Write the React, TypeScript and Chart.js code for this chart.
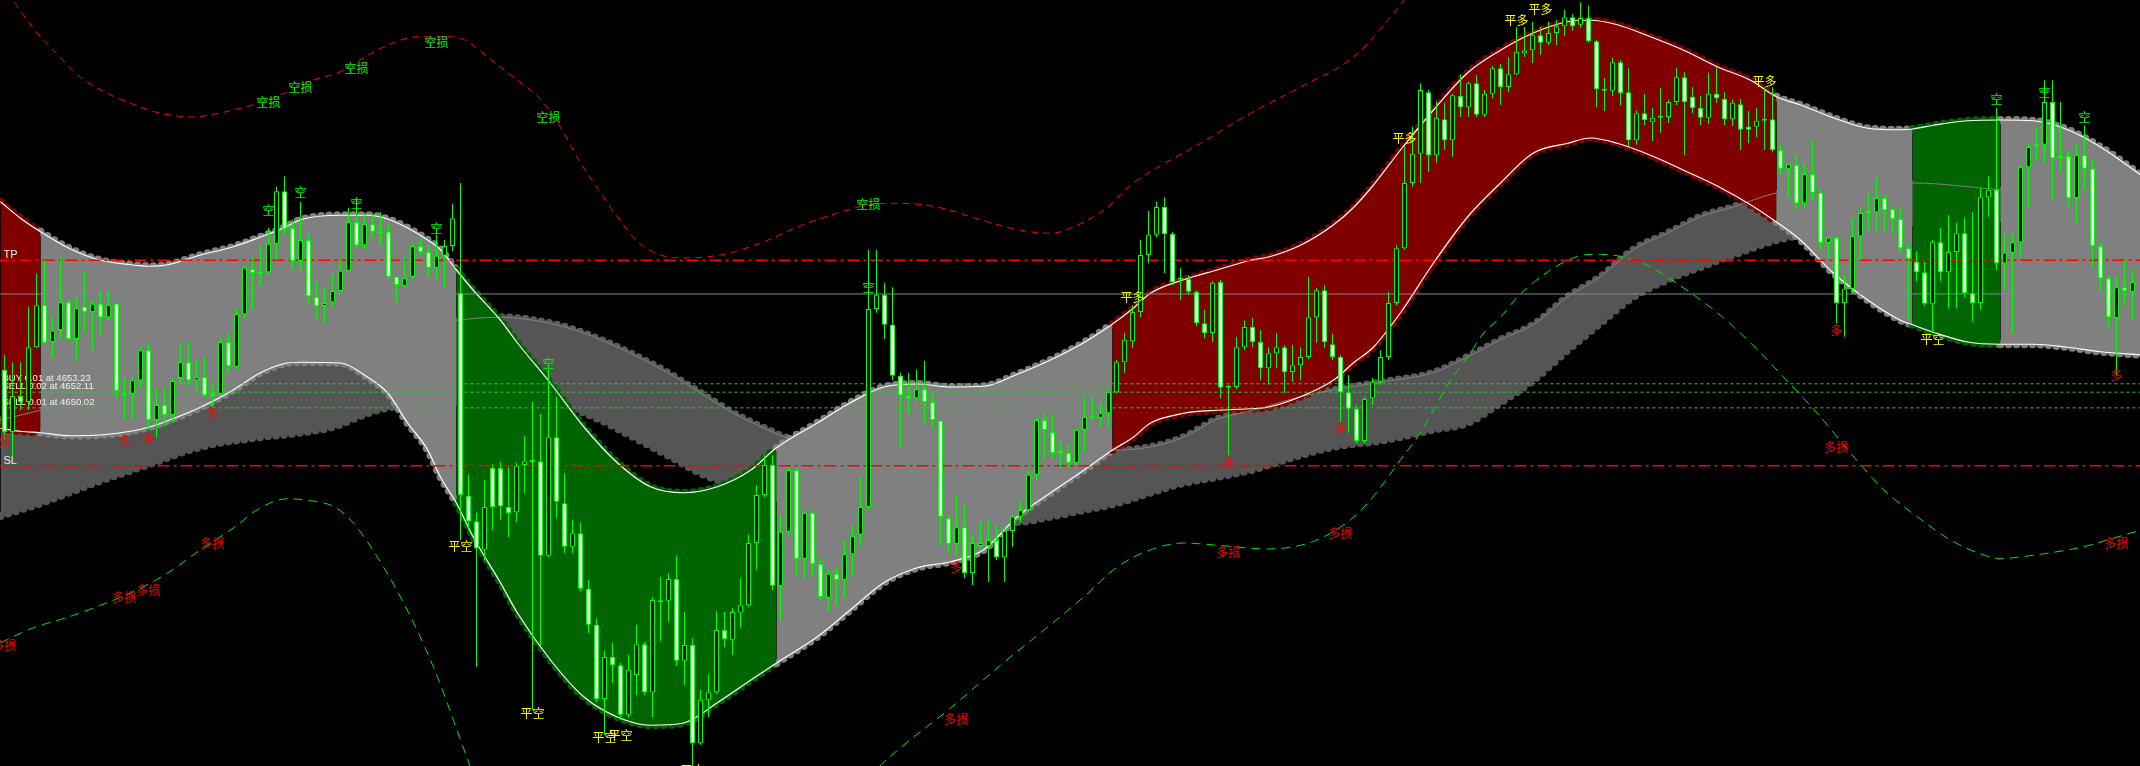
import React, { useEffect, useRef } from "react";
import { Chart, registerables } from "chart.js";

Chart.register(...registerables);

// ---------- Candles (one per bar index) ----------
const opens = [
  4655.1, 4646.8, 4651.6, 4650.8, 4658.1, 4663.7, 4658.8, 4660.4, 4664.1, 4659.2,
  4663.5, 4662.8, 4663.9, 4662.1, 4663.9, 4651.9, 4651.9, 4653.7, 4657.7, 4648.4,
  4650.4, 4649.1, 4654.0, 4656.1, 4653.7, 4654.1, 4651.7, 4651.9, 4658.8, 4655.5,
  4662.5, 4668.5, 4668.0, 4668.1, 4671.9, 4678.9, 4674.0, 4669.6, 4672.4, 4664.8,
  4663.6, 4664.1, 4665.6, 4668.3, 4674.8, 4671.7, 4674.5, 4673.5, 4673.5, 4667.5,
  4666.3, 4667.5, 4671.6, 4670.8, 4668.7, 4670.3, 4671.6, 4665.3, 4638.3, 4634.9,
  4631.1, 4642.0, 4642.0, 4636.8, 4636.1, 4642.4, 4642.9, 4642.9, 4630.3, 4646.1,
  4637.3, 4631.5, 4633.3, 4625.9, 4621.1, 4611.2, 4616.8, 4615.7, 4609.1, 4614.4,
  4618.5, 4612.1, 4624.3, 4624.3, 4627.2, 4616.3, 4618.4, 4605.3, 4611.1, 4612.1,
  4620.4, 4619.1, 4622.7, 4623.7, 4632.0, 4638.4, 4642.4, 4626.3, 4633.5, 4641.7,
  4629.9, 4636.0, 4629.2, 4624.7, 4627.9, 4627.1, 4630.5, 4633.1, 4636.8, 4663.2,
  4665.1, 4661.1, 4654.3, 4651.6, 4651.3, 4652.5, 4650.8, 4648.3, 4635.3, 4631.9,
  4634.1, 4628.0, 4631.6, 4631.6, 4632.4, 4630.1, 4633.6, 4635.5, 4636.4, 4641.1,
  4648.4, 4646.8, 4644.3, 4644.0, 4642.7, 4647.1, 4648.7, 4648.7, 4649.3, 4652.1,
  4656.1, 4658.9, 4662.8, 4670.4, 4673.1, 4676.8, 4673.2, 4667.2, 4667.2, 4665.5,
  4661.3, 4660.0, 4666.8, 4652.8, 4652.8, 4658.1, 4660.8, 4658.8, 4655.3, 4657.3,
  4658.1, 4654.8, 4655.7, 4656.8, 4662.1, 4665.7, 4658.5, 4656.8, 4652.1, 4649.9,
  4645.6, 4651.3, 4653.5, 4656.8, 4664.0, 4671.3, 4680.0, 4683.9, 4692.1, 4683.7,
  4688.5, 4685.7, 4691.6, 4690.1, 4693.3, 4689.1, 4691.9, 4695.3, 4692.8, 4694.5,
  4697.3, 4697.7, 4699.7, 4698.7, 4700.0, 4700.9, 4702.1, 4701.1, 4702.0, 4698.9,
  4692.4, 4692.3, 4696.1, 4692.1, 4685.7, 4689.3, 4688.1, 4688.8, 4688.8, 4690.8,
  4694.1, 4691.5, 4690.0, 4688.7, 4691.9, 4691.2, 4688.5, 4690.5, 4687.5, 4687.5,
  4688.5, 4688.5, 4684.4, 4681.9, 4682.4, 4677.3, 4681.2, 4678.7, 4672.0, 4672.7,
  4664.0, 4665.9, 4672.9, 4676.1, 4676.1, 4678.0, 4676.5, 4675.2, 4671.3, 4669.5,
  4668.1, 4663.9, 4672.1, 4668.1, 4670.8, 4673.3, 4665.3, 4664.0, 4678.1, 4679.1,
  4669.3, 4670.7, 4672.1, 4682.1, 4685.1, 4685.1, 4690.8, 4683.6, 4683.6, 4678.0,
  4683.7, 4681.9, 4671.6, 4667.3, 4662.0, 4666.1, 4665.5,
];
const highs = [
  4657.1, 4656.1, 4656.1, 4663.5, 4667.9, 4669.7, 4662.1, 4670.1, 4664.4, 4664.7,
  4668.1, 4664.4, 4665.6, 4665.6, 4664.1, 4654.1, 4654.1, 4658.1, 4658.7, 4652.5,
  4652.5, 4654.0, 4658.7, 4658.8, 4656.4, 4656.8, 4653.1, 4659.3, 4659.9, 4663.3,
  4668.9, 4670.0, 4671.7, 4674.0, 4679.5, 4680.9, 4675.1, 4677.5, 4673.3, 4666.9,
  4666.1, 4668.0, 4669.7, 4676.7, 4678.0, 4676.0, 4676.0, 4676.1, 4674.7, 4667.6,
  4670.1, 4671.9, 4672.7, 4671.7, 4673.1, 4672.4, 4677.2, 4680.0, 4641.1, 4636.1,
  4640.4, 4642.5, 4642.8, 4642.1, 4642.7, 4646.3, 4650.8, 4649.2, 4655.1, 4651.5,
  4641.3, 4635.1, 4634.7, 4627.1, 4621.9, 4617.6, 4618.7, 4616.0, 4617.1, 4621.1,
  4618.8, 4624.8, 4627.5, 4628.0, 4630.3, 4622.8, 4619.3, 4612.4, 4614.5, 4622.9,
  4622.8, 4623.3, 4627.3, 4633.1, 4639.7, 4643.7, 4643.7, 4635.7, 4642.1, 4642.0,
  4636.4, 4636.4, 4630.0, 4628.4, 4628.8, 4632.4, 4634.4, 4640.7, 4671.1, 4671.1,
  4666.7, 4666.1, 4654.7, 4654.7, 4655.1, 4656.3, 4652.0, 4648.5, 4635.7, 4638.4,
  4637.1, 4633.1, 4634.8, 4635.1, 4634.4, 4634.1, 4635.7, 4637.7, 4641.7, 4648.7,
  4649.3, 4649.1, 4645.6, 4645.2, 4647.3, 4651.5, 4651.5, 4650.7, 4652.4, 4656.4,
  4660.0, 4663.7, 4672.4, 4676.3, 4677.5, 4678.1, 4673.5, 4668.7, 4667.7, 4665.7,
  4663.1, 4666.9, 4667.1, 4653.1, 4659.5, 4661.7, 4662.0, 4660.4, 4658.1, 4660.0,
  4658.4, 4658.4, 4658.1, 4667.5, 4666.0, 4666.4, 4659.9, 4657.1, 4654.4, 4650.4,
  4651.5, 4654.0, 4657.7, 4665.5, 4671.7, 4684.9, 4687.5, 4693.3, 4692.4, 4690.9,
  4690.7, 4691.9, 4694.5, 4693.5, 4694.4, 4692.4, 4695.6, 4695.9, 4696.8, 4700.8,
  4700.8, 4701.5, 4700.8, 4701.5, 4701.7, 4703.1, 4702.5, 4704.1, 4703.6, 4699.1,
  4694.0, 4696.7, 4696.4, 4695.3, 4689.7, 4691.9, 4690.0, 4692.7, 4691.1, 4695.3,
  4694.8, 4692.8, 4691.6, 4694.7, 4695.5, 4692.1, 4691.1, 4691.2, 4689.6, 4690.0,
  4692.8, 4692.8, 4685.1, 4682.7, 4683.7, 4682.7, 4685.7, 4679.1, 4672.8, 4672.9,
  4667.6, 4675.3, 4676.8, 4678.7, 4680.7, 4678.3, 4676.8, 4676.7, 4671.9, 4670.9,
  4669.5, 4672.4, 4674.0, 4675.7, 4674.7, 4675.3, 4676.1, 4679.3, 4680.9, 4690.0,
  4673.3, 4673.3, 4682.4, 4685.3, 4687.3, 4693.7, 4693.7, 4690.8, 4684.4, 4685.3,
  4687.7, 4683.1, 4671.9, 4667.6, 4667.6, 4669.7, 4668.4,
];
const lows = [
  4645.7, 4643.5, 4649.7, 4649.7, 4658.0, 4658.5, 4656.8, 4659.3, 4659.1, 4656.3,
  4660.1, 4657.7, 4659.6, 4661.7, 4651.3, 4648.5, 4648.5, 4652.8, 4647.2, 4646.1,
  4647.5, 4648.0, 4653.2, 4653.1, 4652.4, 4651.5, 4650.1, 4651.7, 4654.7, 4655.1,
  4662.0, 4663.1, 4666.4, 4667.7, 4669.7, 4673.1, 4668.5, 4668.4, 4664.0, 4661.9,
  4661.3, 4663.5, 4665.5, 4668.1, 4671.3, 4671.2, 4672.8, 4671.7, 4667.3, 4664.1,
  4666.1, 4667.3, 4670.4, 4667.5, 4667.3, 4666.1, 4670.9, 4632.4, 4633.7, 4615.5,
  4629.7, 4633.7, 4635.1, 4632.8, 4634.8, 4638.7, 4609.7, 4618.3, 4630.1, 4635.3,
  4630.7, 4630.7, 4625.6, 4620.0, 4610.8, 4606.4, 4613.3, 4608.4, 4608.8, 4611.7,
  4611.7, 4608.8, 4618.9, 4621.5, 4615.6, 4613.1, 4602.3, 4605.1, 4608.8, 4611.9,
  4618.1, 4617.1, 4620.7, 4623.5, 4628.4, 4638.1, 4625.7, 4621.7, 4633.1, 4627.7,
  4627.3, 4627.7, 4624.4, 4622.8, 4623.7, 4624.8, 4627.7, 4631.7, 4636.4, 4662.7,
  4659.2, 4653.7, 4644.7, 4649.3, 4650.8, 4648.0, 4647.5, 4631.7, 4630.7, 4630.4,
  4627.3, 4626.4, 4631.1, 4626.8, 4629.7, 4626.8, 4631.5, 4634.7, 4636.1, 4640.4,
  4643.3, 4643.3, 4642.0, 4642.0, 4642.4, 4644.1, 4648.5, 4647.5, 4647.3, 4651.9,
  4654.7, 4658.0, 4662.1, 4669.3, 4672.8, 4668.0, 4666.4, 4664.4, 4665.1, 4660.9,
  4659.3, 4658.8, 4651.3, 4643.7, 4652.5, 4657.7, 4658.1, 4653.7, 4653.1, 4655.3,
  4652.0, 4653.5, 4653.7, 4656.5, 4658.7, 4658.0, 4656.4, 4648.0, 4646.7, 4645.3,
  4645.3, 4650.4, 4653.1, 4656.4, 4663.7, 4671.1, 4679.5, 4680.0, 4681.5, 4682.7,
  4684.4, 4683.5, 4688.8, 4688.8, 4688.8, 4688.8, 4691.3, 4690.4, 4692.1, 4694.4,
  4696.8, 4696.0, 4697.1, 4698.4, 4698.4, 4699.6, 4700.3, 4700.7, 4698.7, 4690.1,
  4689.6, 4691.6, 4690.3, 4684.9, 4685.1, 4687.7, 4685.6, 4686.7, 4688.0, 4690.4,
  4683.7, 4689.3, 4687.7, 4687.9, 4690.7, 4687.7, 4687.6, 4684.4, 4685.3, 4686.1,
  4684.4, 4684.1, 4681.1, 4678.1, 4676.4, 4676.7, 4677.7, 4671.1, 4670.0, 4661.3,
  4659.5, 4665.3, 4669.7, 4673.7, 4673.5, 4673.5, 4673.3, 4670.7, 4661.7, 4666.9,
  4663.6, 4660.0, 4666.9, 4663.3, 4663.3, 4664.7, 4661.5, 4663.1, 4675.5, 4668.4,
  4665.7, 4660.0, 4670.1, 4676.7, 4682.8, 4682.7, 4677.7, 4681.5, 4676.8, 4674.7,
  4679.1, 4668.8, 4665.7, 4660.8, 4654.4, 4663.7, 4661.7,
];
const closes = [
  4646.8, 4651.6, 4650.8, 4658.1, 4663.7, 4658.7, 4660.3, 4664.1, 4659.2, 4663.3,
  4662.8, 4663.9, 4662.1, 4663.7, 4652.3, 4651.7, 4653.7, 4657.7, 4648.4, 4650.4,
  4649.1, 4653.6, 4656.1, 4653.7, 4654.1, 4651.7, 4651.6, 4658.8, 4655.6, 4662.5,
  4668.7, 4668.0, 4667.9, 4671.9, 4678.9, 4673.9, 4669.6, 4672.4, 4664.9, 4663.6,
  4664.0, 4665.6, 4668.3, 4674.8, 4671.7, 4674.5, 4673.5, 4673.3, 4667.5, 4666.4,
  4667.3, 4671.6, 4670.8, 4668.7, 4670.3, 4671.6, 4675.3, 4638.4, 4634.9, 4631.3,
  4636.8, 4636.8, 4636.9, 4636.0, 4642.3, 4642.9, 4642.8, 4630.3, 4646.1, 4637.5,
  4631.5, 4633.3, 4625.9, 4621.1, 4611.2, 4616.8, 4615.7, 4609.1, 4615.1, 4618.5,
  4612.1, 4624.4, 4624.1, 4627.2, 4616.3, 4618.4, 4605.3, 4611.1, 4612.1, 4620.4,
  4619.2, 4622.8, 4623.7, 4632.0, 4638.4, 4642.4, 4626.3, 4633.5, 4641.7, 4629.9,
  4636.0, 4629.2, 4624.8, 4627.9, 4627.1, 4630.5, 4632.9, 4636.8, 4663.2, 4665.1,
  4661.1, 4654.3, 4651.7, 4651.3, 4652.5, 4650.8, 4648.4, 4635.5, 4631.9, 4634.1,
  4628.0, 4632.0, 4632.0, 4632.4, 4630.1, 4633.6, 4635.5, 4636.4, 4641.1, 4648.4,
  4647.1, 4644.0, 4644.0, 4642.7, 4647.1, 4648.8, 4648.8, 4649.3, 4652.1, 4656.1,
  4659.1, 4662.8, 4670.4, 4673.1, 4676.8, 4673.2, 4666.8, 4667.1, 4665.5, 4661.3,
  4660.0, 4666.7, 4652.7, 4652.7, 4658.1, 4660.8, 4658.8, 4655.3, 4657.3, 4658.1,
  4654.8, 4655.7, 4656.8, 4662.1, 4665.7, 4658.8, 4656.8, 4652.1, 4649.9, 4645.6,
  4651.2, 4653.5, 4656.8, 4664.0, 4671.3, 4680.0, 4683.9, 4692.4, 4683.7, 4688.7,
  4685.7, 4691.7, 4690.1, 4693.3, 4689.1, 4691.9, 4695.3, 4692.8, 4694.5, 4697.5,
  4697.7, 4699.7, 4698.7, 4700.0, 4700.9, 4702.1, 4700.9, 4702.0, 4698.9, 4692.5,
  4692.3, 4696.1, 4692.0, 4685.7, 4689.3, 4688.4, 4688.7, 4688.7, 4690.8, 4694.1,
  4690.8, 4690.0, 4688.7, 4691.9, 4691.3, 4688.5, 4690.7, 4687.1, 4687.1, 4688.3,
  4688.3, 4684.4, 4681.9, 4682.5, 4677.3, 4681.2, 4678.7, 4672.0, 4672.7, 4664.0,
  4665.9, 4672.9, 4676.0, 4676.0, 4678.0, 4676.4, 4675.2, 4671.3, 4669.9, 4668.1,
  4663.9, 4672.1, 4668.1, 4670.8, 4673.3, 4665.3, 4664.0, 4678.1, 4679.1, 4669.3,
  4670.7, 4672.1, 4682.1, 4684.8, 4684.9, 4690.8, 4683.3, 4683.3, 4678.0, 4683.7,
  4681.9, 4671.6, 4667.3, 4662.1, 4666.1, 4665.6, 4666.8,
];

// ---------- Main channel (bar-index positions, upper/lower prices) ----------
const bandX = [
  -0.5, 2, 4.5, 8.25, 12, 15.75, 18.25, 20.4, 24.5, 28.6, 32, 34.9, 37, 42, 45.4, 47.9, 50.4, 52.9, 54.5, 56.5,
  58.6, 62, 64.1, 68.25, 72.4, 76.6, 80.75, 84.9, 89.1, 93.25, 96.5, 101.6, 105.75, 109.9, 114.1, 118.25, 122.4, 126.6, 130.75, 134.9,
  138.5, 141.1, 143.25, 147.4, 151.6, 155.75, 157.9, 162, 166.1, 168.6, 171.1, 174.5, 178.6, 182.9, 187, 191.1, 195.4, 198.25, 201.6, 205.75,
  209.9, 214.1, 218.25, 221.5, 224.5, 228.6, 232.9, 237, 238.5, 241.1, 245.4, 249.5, 253.6, 257.9, 262, 267,
];
const bandUpper = [
  4677.5, 4675.3, 4673.5, 4671.2, 4669.7, 4669.1, 4668.9, 4669.1, 4670.4, 4671.5, 4672.8, 4674.0, 4675.1, 4675.7, 4675.7, 4675.2, 4674.0, 4672.4, 4671.1, 4668.4,
  4665.7, 4661.7, 4658.7, 4653.3, 4647.5, 4642.7, 4639.5, 4638.7, 4639.5, 4641.7, 4644.7, 4648.0, 4650.7, 4652.8, 4653.2, 4652.8, 4652.9, 4654.5, 4656.4, 4658.7,
  4661.2, 4663.3, 4665.3, 4667.1, 4668.4, 4669.7, 4670.1, 4671.7, 4674.4, 4676.7, 4679.7, 4684.4, 4689.7, 4694.7, 4697.7, 4700.0, 4701.5, 4701.7, 4701.1, 4699.5,
  4697.7, 4695.5, 4693.7, 4691.5, 4690.4, 4688.7, 4687.3, 4687.1, 4687.2, 4687.7, 4688.3, 4688.4, 4688.3, 4687.1, 4684.8, 4681.1,
];
const bandLower = [
  4647.3, 4646.9, 4646.7, 4646.3, 4646.4, 4646.9, 4647.5, 4648.3, 4650.1, 4652.4, 4654.7, 4655.9, 4656.1, 4656.0, 4654.1, 4652.0, 4648.0, 4644.4, 4640.8, 4637.3,
  4632.8, 4626.7, 4622.7, 4616.4, 4611.5, 4608.8, 4607.7, 4608.0, 4610.7, 4613.7, 4616.0, 4619.5, 4623.1, 4626.7, 4628.7, 4629.5, 4631.1, 4635.5, 4638.7, 4641.7,
  4644.4, 4646.1, 4648.0, 4649.3, 4649.7, 4649.9, 4650.1, 4651.5, 4653.7, 4656.0, 4658.1, 4662.7, 4669.3, 4675.5, 4680.0, 4684.0, 4685.3, 4686.0, 4685.3, 4683.7,
  4681.7, 4679.6, 4677.1, 4674.8, 4672.4, 4668.0, 4664.4, 4661.7, 4661.1, 4660.1, 4658.8, 4658.5, 4658.5, 4658.1, 4657.5, 4657.1,
];
// channel state by bar range
const regionStarts = [-0.5, 4.5, 56.5, 96.5, 138.5, 221.5, 238.5, 249.5];
const regionKinds = ["long", "flat", "short", "flat", "long", "flat", "short", "flat"];

// ---------- Slow grey cloud ----------
const cloudX = [
  -0.5, 4.5, 12, 17, 24.5, 32, 37, 41.1, 45.4, 48.25, 55.75, 62, 66.1, 70.4, 74.5, 78.6, 82.9, 87, 91.1, 95.4,
  97.9, 105.75, 118.25, 126.6, 130.75, 134.9, 139.1, 143.25, 147.4, 151.6, 155.75, 162, 166.1, 172.4, 178.6, 182.9, 187, 191.1, 195.4, 199.5,
  203.6, 207.9, 212, 216.1, 221.6, 230.75, 238.5, 249.5, 267,
];
const cloudTop = [
  4648.4, 4649.7, 4651.5, 4652.7, 4654.4, 4656.3, 4657.5, 4658.4, 4659.5, 4660.1, 4661.6, 4662.1, 4661.7, 4660.7, 4659.1, 4657.1, 4654.7, 4652.0, 4649.3, 4647.1,
  4646.0, 4645.1, 4644.7, 4644.5, 4644.4, 4644.4, 4644.4, 4644.8, 4646.1, 4648.5, 4649.6, 4651.5, 4652.4, 4653.5, 4654.7, 4656.8, 4659.1, 4661.1, 4664.8, 4667.5,
  4671.1, 4673.3, 4675.5, 4676.8, 4678.7, 4679.6, 4680.0, 4679.1, 4677.7,
];
const cloudBottom = [
  4635.6, 4637.3, 4640.3, 4642.1, 4644.8, 4646.1, 4646.7, 4647.5, 4649.3, 4650.1, 4650.8, 4650.9, 4650.8, 4650.1, 4648.4, 4646.1, 4643.7, 4641.3, 4639.7, 4638.4,
  4637.6, 4636.1, 4635.1, 4634.8, 4635.5, 4636.4, 4637.3, 4638.7, 4640.0, 4640.8, 4641.7, 4643.7, 4644.8, 4645.7, 4647.1, 4648.0, 4650.7, 4653.7, 4657.7, 4661.3,
  4664.8, 4667.1, 4668.8, 4670.4, 4672.4, 4674.0, 4674.8, 4675.3, 4674.4,
];

// ---------- Stop lines ----------
const shortStopX = [
  -0.5, 1.5, 4, 6.5, 9.5, 12.6, 15.6, 18.75, 21.9, 23.5, 25.75, 28.5, 31.9, 35.25, 38.5, 41.9, 45.5, 48.6, 51.6, 55.25,
  57.5, 60.4, 63.6, 66.5, 68.1, 69.9, 72, 74.25, 77.6, 79.9, 84.5, 89.5, 94.5, 99.5, 104.5, 108, 112, 117, 122, 127,
  130.75, 134.9, 137.9, 140.75, 149.5, 155.75, 162, 168.6, 173.25, 175.75,
];
const shortStopY = [
  4706.7, 4703.7, 4700.1, 4697.3, 4694.1, 4692.1, 4690.7, 4689.5, 4688.9, 4688.8, 4689.1, 4689.7, 4690.7, 4692.1, 4693.7, 4694.8, 4697.1, 4698.7, 4699.5, 4699.5,
  4699.1, 4696.8, 4694.1, 4691.7, 4689.7, 4686.7, 4682.7, 4679.1, 4674.1, 4671.5, 4670.0, 4670.4, 4672.0, 4674.3, 4676.1, 4677.1, 4677.3, 4676.7, 4675.1, 4673.7,
  4673.3, 4674.8, 4676.8, 4679.7, 4685.3, 4689.3, 4692.8, 4696.8, 4702.1, 4705.5,
];
const longStopX = [
  -0.5, 3.6, 7.9, 12, 16.1, 20.4, 24.5, 28.6, 32, 35.4, 39.1, 41.1, 43.25, 45.4, 49.5, 53.6, 57.9, 59.5, 83, 107,
  108.9, 112, 118.25, 124.5, 130.75, 134.9, 139.1, 143.25, 147.4, 151.6, 157.9, 162, 164.9, 168.25, 170.4, 172.4, 174.5, 176.6, 178.6, 180.75,
  182.9, 184.9, 187, 189.1, 191.1, 193.25, 195.4, 197.4, 199.5, 201.6, 203.6, 205.75, 209.9, 214.1, 218.25, 222.4, 226.6, 230.75, 234.9, 239.1,
  243.25, 247.4, 249.5, 251.6, 255.75, 259.9, 264.1, 267,
];
const longStopY = [
  4618.7, 4620.7, 4622.1, 4623.7, 4625.5, 4628.0, 4631.1, 4634.0, 4636.7, 4637.9, 4637.5, 4636.9, 4635.1, 4632.1, 4624.8, 4615.5, 4603.1, 4598.4, null, 4599.1,
  4601.7, 4604.7, 4610.0, 4615.7, 4621.1, 4624.8, 4628.8, 4631.1, 4632.0, 4631.7, 4631.2, 4631.7, 4632.8, 4635.1, 4637.3, 4640.0, 4643.1, 4646.1, 4649.7, 4653.7,
  4656.8, 4660.0, 4662.1, 4664.8, 4666.7, 4668.4, 4669.7, 4670.4, 4670.5, 4670.3, 4669.7, 4668.8, 4666.0, 4662.7, 4658.7, 4654.1, 4649.3, 4644.0, 4639.1, 4635.5,
  4632.4, 4630.4, 4629.9, 4630.1, 4630.7, 4631.5, 4632.8, 4633.7,
];

// ---------- Levels ----------
const tpPrice = 4669.7;
const slPrice = 4642.3;
const bidPrice = 4665.2;
const orderSides = ["BUY", "SELL", "SELL"];
const orderLots = [0.01, 0.02, 0.01];
const orderPrices = [4653.23, 4652.11, 4650.02];

// ---------- Signal labels (bar index, price) ----------
const shortEntryIdx = [33, 37, 44, 54, 68, 108, 249, 255, 260];
const shortEntryPrice = [4676.3, 4678.7, 4677.3, 4673.9, 4656.0, 4666.1, 4691.1, 4692.1, 4688.8];
const longEntryIdx = [0, 15, 18, 26, 119, 153, 167, 229, 264];
const longEntryPrice = [4645.5, 4645.5, 4646.0, 4649.3, 4628.8, 4642.8, 4647.3, 4660.4, 4654.4];
const shortStopIdx = [33, 37, 44, 54, 68, 108];
const shortStopPrice = [4690.7, 4692.8, 4695.3, 4698.8, 4688.8, 4677.1];
const longStopIdx = [0, 15, 18, 26, 119, 153, 167, 229, 264];
const longStopPrice = [4618.3, 4624.7, 4625.7, 4631.9, 4608.5, 4630.7, 4633.3, 4644.8, 4632.0];
const closeShortIdx = [57, 66, 75, 77, 86, 241];
const closeShortPrice = [4631.5, 4609.3, 4606.1, 4606.3, 4601.7, 4659.2];
const closeLongIdx = [141, 175, 189, 192, 220];
const closeLongPrice = [4664.7, 4685.9, 4701.7, 4703.1, 4693.6];

const W = 2140;
const H = 766;

const kindColor: any = { long: "#800000", short: "#006400", flat: "#808080" };

function kindAt(x: number) {
  let k = 0;
  for (let j = 0; j < regionStarts.length; j++) if (x >= regionStarts[j]) k = j;
  return regionKinds[k];
}

const pts = (xs: number[], ys: (number | null)[]) => xs.map((x, k) => ({ x, y: ys[k] }));

const textPlugin = {
  id: "mtText",
  beforeDatasetDraw(chart: any, args: any) {
    if (chart.data.datasets[args.index].label !== "wicks") return;
    const { ctx, scales } = chart;
    const xs = scales.x;
    const ys = scales.y;
    const x0 = xs.getPixelForValue(-0.5) + 2;
    ctx.save();
    ctx.fillStyle = "#eeeeee";
    ctx.textAlign = "left";
    ctx.textBaseline = "alphabetic";
    ctx.font = '9.5px "Liberation Sans", Arial, sans-serif';
    orderPrices.forEach((p, k) => {
      ctx.fillText(`${orderSides[k]} ${orderLots[k].toFixed(2)} at ${p.toFixed(2)}`, x0, ys.getPixelForValue(p) - 3);
    });
    ctx.font = '11px "Liberation Sans", Arial, sans-serif';
    ctx.fillText("TP", x0 + 1, ys.getPixelForValue(tpPrice) - 2);
    ctx.fillText("SL", x0 + 1, ys.getPixelForValue(slPrice) - 2);
    ctx.restore();
  },
  afterDatasetsDraw(chart: any) {
    const { ctx, scales } = chart;
    const xs = scales.x;
    const ys = scales.y;
    const groups = [
      { text: "空", color: "#00ff00", idx: shortEntryIdx, price: shortEntryPrice },
      { text: "多", color: "#ff0000", idx: longEntryIdx, price: longEntryPrice },
      { text: "空损", color: "#00ff00", idx: shortStopIdx, price: shortStopPrice },
      { text: "多损", color: "#ff0000", idx: longStopIdx, price: longStopPrice },
      { text: "平空", color: "#ffff00", idx: closeShortIdx, price: closeShortPrice },
      { text: "平多", color: "#ffff00", idx: closeLongIdx, price: closeLongPrice },
    ];
    ctx.save();
    ctx.font = '12px "Noto Sans CJK SC", sans-serif';
    ctx.textAlign = "center";
    ctx.textBaseline = "middle";
    groups.forEach((g) => {
      ctx.fillStyle = g.color;
      g.idx.forEach((i, k) => {
        ctx.fillText(g.text, xs.getPixelForValue(i), ys.getPixelForValue(g.price[k]));
      });
    });
    ctx.restore();
  },
};

export default function App() {
  const ref = useRef<HTMLCanvasElement>(null);

  useEffect(() => {
    document.body.style.margin = "0";
    document.body.style.background = "#000";
    const canvas = ref.current as HTMLCanvasElement;
    const idx = opens.map((_, i) => i);
    const segColor = (c: any) => kindColor[kindAt((c.p0.parsed.x + c.p1.parsed.x) / 2)];
    const clear = "rgba(0,0,0,0)";
    const flat = (price: number) => [
      { x: -1, y: price },
      { x: 268, y: price },
    ];
    const baseLine = { pointRadius: 0, fill: false, tension: 0 };

    const chart = new Chart(canvas, {
      type: "line",
      data: {
        datasets: [
          // 0 cloud lower scallops
          {
            ...baseLine, label: "cloudBottomDots", data: pts(cloudX, cloudBottom), cubicInterpolationMode: "monotone",
            borderColor: "#555555", borderWidth: 8, borderDash: [0, 8], borderCapStyle: "round", order: 100,
          },
          // 1 cloud upper scallops
          {
            ...baseLine, label: "cloudTopDots", data: pts(cloudX, cloudTop), cubicInterpolationMode: "monotone",
            borderColor: "#5c5c5c", borderWidth: 8, borderDash: [0, 8], borderCapStyle: "round", order: 99,
          },
          // 2 cloud fill
          {
            ...baseLine, label: "cloudFill", data: pts(cloudX, cloudTop), cubicInterpolationMode: "monotone",
            borderColor: clear, borderWidth: 0, fill: "-2", backgroundColor: "#555555", order: 98,
          },
          // 3 channel upper scallops
          {
            ...baseLine, label: "upperDots", data: pts(bandX, bandUpper), cubicInterpolationMode: "monotone",
            borderWidth: 8, borderDash: [0, 8], borderCapStyle: "round", borderColor: "#808080",
            segment: { borderColor: segColor }, order: 90,
          },
          // 4 channel lower scallops
          {
            ...baseLine, label: "lowerDots", data: pts(bandX, bandLower), cubicInterpolationMode: "monotone",
            borderWidth: 8, borderDash: [0, 8], borderCapStyle: "round", borderColor: "#808080",
            segment: { borderColor: segColor }, order: 89,
          },
          // 5 channel fill
          {
            ...baseLine, label: "channelFill", data: pts(bandX, bandUpper), cubicInterpolationMode: "monotone",
            borderColor: clear, borderWidth: 0, fill: "-1", backgroundColor: "#808080",
            segment: { backgroundColor: segColor, borderColor: clear }, order: 80,
          },
          // 6 cloud top line
          {
            ...baseLine, label: "cloudTopLine", data: pts(cloudX, cloudTop), cubicInterpolationMode: "monotone",
            borderColor: "#808080", borderWidth: 1, order: 70,
          },
          // 7, 8 channel edges
          {
            ...baseLine, label: "upperLine", data: pts(bandX, bandUpper), cubicInterpolationMode: "monotone",
            borderColor: "#ffffff", borderWidth: 1.2, order: 60,
          },
          {
            ...baseLine, label: "lowerLine", data: pts(bandX, bandLower), cubicInterpolationMode: "monotone",
            borderColor: "#ffffff", borderWidth: 1.2, order: 60,
          },
          // 9, 10 stop curves
          {
            ...baseLine, label: "shortStop", data: pts(shortStopX, shortStopY), cubicInterpolationMode: "monotone",
            borderColor: "#ff0000", borderWidth: 1, borderDash: [7, 5], order: 50,
          },
          {
            ...baseLine, label: "longStop", data: pts(longStopX, longStopY), cubicInterpolationMode: "monotone",
            borderColor: "#00e600", borderWidth: 1, borderDash: [9, 6], spanGaps: false, order: 50,
          },
          // horizontal levels
          { ...baseLine, label: "tp", data: flat(tpPrice), borderColor: "#ff0000", borderWidth: 1.5, borderDash: [12, 4, 3, 4], order: 40 },
          { ...baseLine, label: "sl", data: flat(slPrice), borderColor: "#ff0000", borderWidth: 1.5, borderDash: [12, 4, 3, 4], order: 40 },
          { ...baseLine, label: "bid", data: flat(bidPrice), borderColor: "#7b8b9a", borderWidth: 1, order: 40 },
          ...orderPrices.map((p) => ({
            ...baseLine, label: "order", data: flat(p), borderColor: "#33cc33", borderWidth: 1, borderDash: [3, 3], order: 40,
          })),
          // candles
          {
            type: "bar", label: "wicks", data: idx.map((i) => ({ x: i, y: [lows[i], highs[i]] })),
            backgroundColor: "#00ff00", borderWidth: 0, barThickness: 1, maxBarThickness: 1, grouped: false,
            inflateAmount: 0, order: 20,
          },
          {
            type: "bar", label: "bodies", data: idx.map((i) => ({ x: i, y: [opens[i], closes[i]] })),
            backgroundColor: idx.map((i) => (closes[i] > opens[i] ? "#000000" : "#ffffff")),
            borderColor: "#00ff00", borderWidth: 1, borderSkipped: false, barThickness: 5, maxBarThickness: 5,
            grouped: false, inflateAmount: 0, minBarLength: 2, order: 10,
          },
        ] as any,
      },
      options: {
        responsive: false,
        maintainAspectRatio: false,
        animation: false,
        devicePixelRatio: 1,
        events: [],
        layout: { padding: 0 },
        plugins: { legend: { display: false }, tooltip: { enabled: false } },
        scales: {
          x: { type: "linear", display: false, min: -0.5625, max: 266.9375, offset: false },
          y: { type: "linear", display: false, min: 4602.267, max: 4704.4 },
        },
      } as any,
      plugins: [textPlugin as any],
    });
    return () => chart.destroy();
  }, []);

  return (
    <div style={{ width: W, height: H, background: "#000" }}>
      <canvas ref={ref} width={W} height={H} style={{ display: "block", width: W, height: H, background: "#000" }} />
    </div>
  );
}
